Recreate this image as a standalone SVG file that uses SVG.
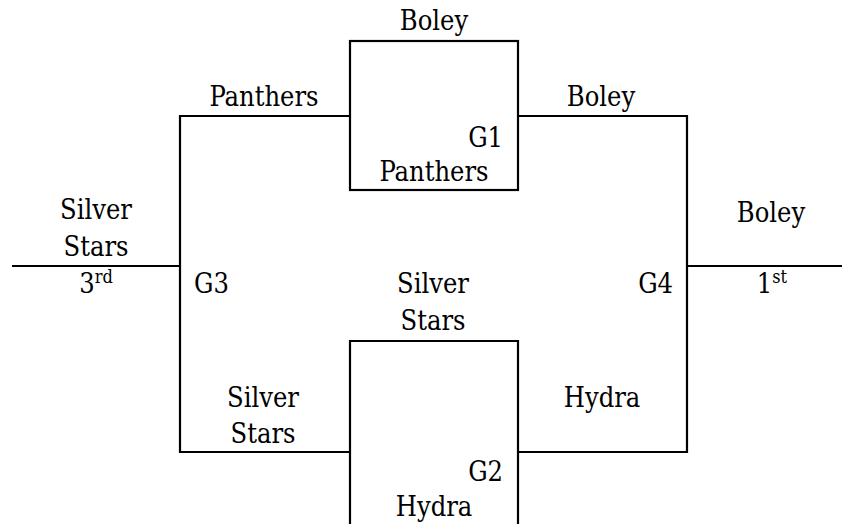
<svg xmlns="http://www.w3.org/2000/svg" width="843" height="524" viewBox="0 0 843 524">
<style>
.ln{fill:none;stroke:#000;stroke-width:2.2}
.t text{font-size:27px;fill:#000;font-stretch:condensed}
.m{text-anchor:middle}
.e{text-anchor:end}
.sup{font-size:18px}
</style>
<rect width="843" height="524" fill="#fff"/>
<g id="connectors">
<path class="ln" d="M12,266 H180"/>
<path class="ln" d="M350,116 H180 V452 H350"/>
<path class="ln" d="M518,116 H687 V452 H518"/>
<path class="ln" d="M687,266 H842"/>
</g>
<g class="t" font-family="'DejaVu Serif Condensed', 'DejaVu Serif', serif">
<g id="g1">
<rect class="ln" x="350" y="41" width="168" height="149"/>
<text class="m" x="434" y="30">Boley</text>
<text class="e" x="503" y="147">G1</text>
<text class="m" x="434" y="181">Panthers</text>
</g>
<g id="g2">
<path class="ln" d="M350,526 V341 H518 V526"/>
<text class="m" x="433" y="293">Silver</text>
<text class="m" x="433" y="330">Stars</text>
<text class="e" x="503" y="481">G2</text>
<text class="m" x="434" y="516">Hydra</text>
</g>
<g id="g3">
<text class="m" x="264" y="106">Panthers</text>
<text class="m" x="263" y="407">Silver</text>
<text class="m" x="263" y="443">Stars</text>
<text x="194" y="293">G3</text>
</g>
<g id="g4">
<text class="m" x="601" y="106">Boley</text>
<text class="m" x="602" y="407">Hydra</text>
<text class="e" x="673" y="293">G4</text>
</g>
<g id="third">
<text class="m" x="96" y="219">Silver</text>
<text class="m" x="96" y="256">Stars</text>
<text class="m" x="96" y="293">3<tspan class="sup" dy="-10">rd</tspan></text>
</g>
<g id="first">
<text class="m" x="771" y="222">Boley</text>
<text class="m" x="772" y="293">1<tspan class="sup" dy="-10">st</tspan></text>
</g>
</g>
</svg>
